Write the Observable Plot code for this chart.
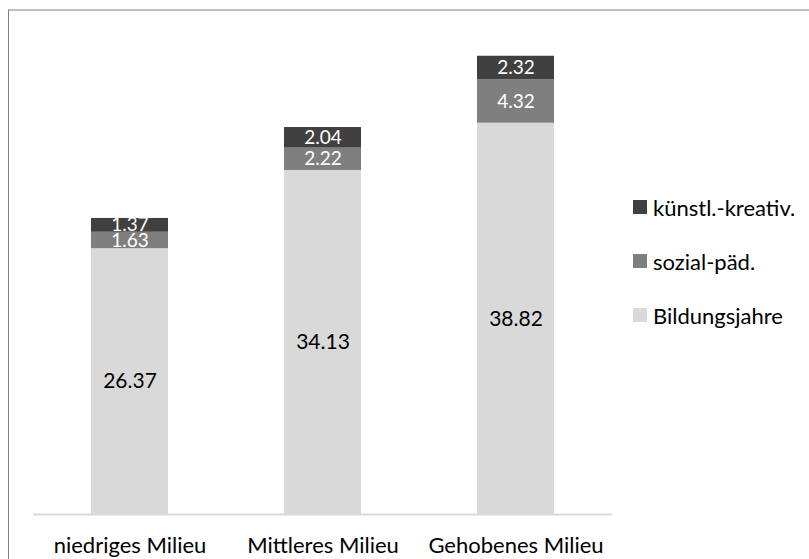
<!DOCTYPE html>
<html>
<head>
<meta charset="utf-8">
<script src="https://cdn.jsdelivr.net/npm/d3@7"></script>
<script src="https://cdn.jsdelivr.net/npm/@observablehq/plot@0.6"></script>
<style>
  html, body { margin: 0; padding: 0; background: #fff; }
  #wrap { position: relative; width: 809px; height: 559px; overflow: hidden; font-family: Lato, "Open Sans", sans-serif; }
  #frame { position: absolute; left: 8px; top: 9px; right: -2px; bottom: -2px;
           border-top: 2px solid #c0c0c0; border-left: 1px solid #808080; }
  #chart { position: absolute; left: 0; top: 0; }
  #legend { position: absolute; left: 633px; top: 196px; }
  .item { display: flex; align-items: center; height: 22px; margin-bottom: 32px; font-size: 22px; color: #000; }
  .sw { width: 14px; height: 14px; margin-right: 6px; }
</style>
</head>
<body>
<div id="wrap">
  <div id="frame"></div>
  <div id="chart"></div>
  <div id="legend"></div>
</div>
<script>
// Milieu groups and the three stacked components
const categories = ["niedriges Milieu", "Mittleres Milieu", "Gehobenes Milieu"];
const series = ["Bildungsjahre", "sozial-päd.", "künstl.-kreativ."];
const bildungsjahre = [26.37, 34.13, 38.82];
const sozialPaed = [1.63, 2.22, 4.32];
const kuenstlKreativ = [1.37, 2.04, 2.32];
const colors = ["#d9d9d9", "#7f7f7f", "#404040"];

const columns = [bildungsjahre, sozialPaed, kuenstlKreativ];
const data = [];
series.forEach((s, i) => {
  categories.forEach((c, j) => data.push({ category: c, series: s, value: columns[i][j] }));
});

const fmt = d3.format(".2f");
const stack = { x: "category", y: "value", z: "series" };

const chart = Plot.plot({
  width: 809,
  height: 559,
  marginLeft: 33,
  marginRight: 197,
  marginTop: 10,
  marginBottom: 45,
  style: { fontFamily: "Lato, 'Open Sans', sans-serif", background: "transparent" },
  x: { domain: categories, paddingInner: 0.6, paddingOuter: 0.3, label: null },
  y: { domain: [0, 50], axis: null },
  color: { domain: series, range: colors },
  marks: [
    Plot.barY(data, Plot.stackY({ ...stack, fill: "series" })),
    Plot.ruleY([0], { stroke: "#d9d9d9", strokeWidth: 2 }),
    Plot.axisX({ tickSize: 0, tickPadding: 23, fontSize: 22, fill: "#000", label: null }),
    Plot.text(data, Plot.stackY({
      ...stack,
      text: d => d.series === "Bildungsjahre" ? fmt(d.value) : "",
      fill: "#000", fontSize: 21
    })),
    Plot.text(data, Plot.stackY({
      ...stack,
      text: d => d.series !== "Bildungsjahre" ? fmt(d.value) : "",
      fill: "#fff", fontSize: 19
    }))
  ]
});
document.getElementById("chart").append(chart);

// Legend: top entry is the top stack segment
const legend = document.getElementById("legend");
[...series].reverse().forEach(s => {
  const item = document.createElement("div");
  item.className = "item";
  const sw = document.createElement("span");
  sw.className = "sw";
  sw.style.background = colors[series.indexOf(s)];
  const label = document.createElement("span");
  label.textContent = s;
  item.append(sw, label);
  legend.append(item);
});
</script>
</body>
</html>
